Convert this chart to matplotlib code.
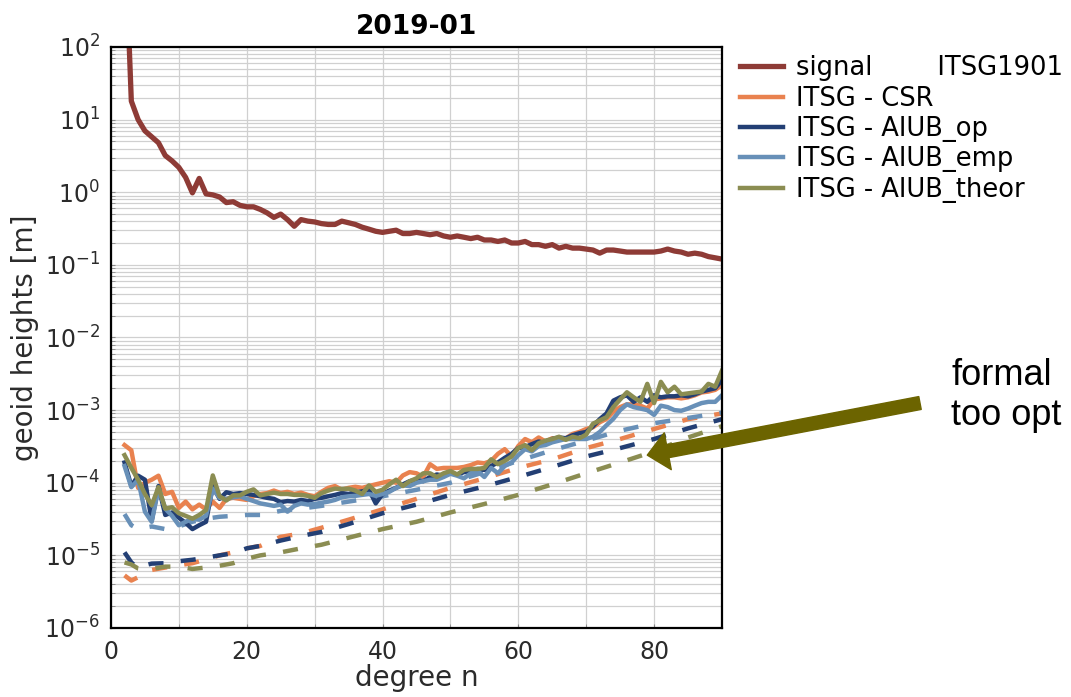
import matplotlib
matplotlib.use("Agg")
import matplotlib.pyplot as plt
from matplotlib.ticker import MultipleLocator, LogLocator, NullFormatter

# degrees 2..90
degrees = list(range(2, 91))

signal = [
    5000,                                                   # 2
    18, 10, 7.0, 5.8, 4.8, 3.2, 2.7, 2.2, 1.6,              # 3-11
    0.98, 1.55, 0.95, 0.92, 0.86, 0.72, 0.74, 0.66, 0.63, 0.63,   # 12-21
    0.58, 0.52, 0.45, 0.50, 0.42, 0.34, 0.42, 0.40, 0.39, 0.37,   # 22-31
    0.36, 0.36, 0.40, 0.38, 0.36, 0.33, 0.31, 0.29, 0.28, 0.29,   # 32-41
    0.30, 0.27, 0.27, 0.28, 0.27, 0.26, 0.27, 0.25, 0.24, 0.25,   # 42-51
    0.24, 0.23, 0.24, 0.22, 0.22, 0.21, 0.22, 0.20, 0.20, 0.21,   # 52-61
    0.19, 0.19, 0.18, 0.19, 0.17, 0.18, 0.17, 0.17, 0.165, 0.16,  # 62-71
    0.145, 0.16, 0.16, 0.155, 0.15, 0.15, 0.15, 0.15, 0.15, 0.155,  # 72-81
    0.165, 0.155, 0.15, 0.14, 0.145, 0.14, 0.13, 0.125, 0.12,       # 82-90
]

csr = [
    3.3e-4, 2.8e-4, 8.5e-5, 1.0e-4, 1.1e-4, 1.25e-4, 7.0e-5, 7.5e-5, 4.5e-5, 5.5e-5,   # 2-11
    4.3e-5, 5.0e-5, 4.3e-5, 5.5e-5, 4.5e-5, 6.0e-5, 6.2e-5, 6.0e-5, 5.8e-5, 6.5e-5,   # 12-21
    7.0e-5, 7.2e-5, 7.8e-5, 7.2e-5, 7.5e-5, 7.0e-5, 7.3e-5, 6.8e-5, 6.5e-5, 7.5e-5,   # 22-31
    8.5e-5, 9.0e-5, 8.0e-5, 8.5e-5, 8.8e-5, 8.5e-5, 9.0e-5, 9.5e-5, 1.0e-4, 1.05e-4,  # 32-41
    1.0e-4, 1.26e-4, 1.4e-4, 1.35e-4, 1.2e-4, 1.8e-4, 1.55e-4, 1.6e-4, 1.6e-4, 1.6e-4,  # 42-51
    1.65e-4, 1.75e-4, 1.9e-4, 1.85e-4, 2.0e-4, 2.5e-4, 2.9e-4, 2.3e-4, 3.2e-4, 4.0e-4,  # 52-61
    3.6e-4, 4.2e-4, 3.7e-4, 4.1e-4, 4.0e-4, 4.1e-4, 4.7e-4, 5.0e-4, 5.5e-4, 5.8e-4,    # 62-71
    6.8e-4, 7.6e-4, 9.5e-4, 1.1e-3, 1.2e-3, 1.2e-3, 1.15e-3, 1.05e-3, 1.4e-3, 1.45e-3,  # 72-81
    1.5e-3, 1.5e-3, 1.45e-3, 1.5e-3, 1.6e-3, 1.75e-3, 1.8e-3, 1.9e-3, 2.2e-3,           # 82-90
]

aiub_op = [
    1.9e-4, 9.0e-5, 1.25e-4, 1.1e-4, 3.0e-5, 9.0e-5, 3.6e-5, 3.9e-5, 3.3e-5, 2.8e-5,   # 2-11
    2.3e-5, 2.6e-5, 2.9e-5, 9.0e-5, 6.0e-5, 7.4e-5, 7.0e-5, 7.2e-5, 7.0e-5, 6.8e-5,   # 12-21
    6.5e-5, 6.2e-5, 6.0e-5, 5.4e-5, 5.6e-5, 5.5e-5, 5.8e-5, 5.6e-5, 6.0e-5, 6.2e-5,   # 22-31
    6.5e-5, 6.8e-5, 7.2e-5, 7.0e-5, 7.4e-5, 7.6e-5, 8.0e-5, 5.2e-5, 7.0e-5, 7.8e-5,   # 32-41
    8.5e-5, 9.5e-5, 1.05e-4, 1.1e-4, 1.05e-4, 1.2e-4, 1.3e-4, 1.25e-4, 1.35e-4, 1.3e-4,  # 42-51
    1.4e-4, 1.45e-4, 1.55e-4, 1.5e-4, 1.7e-4, 1.9e-4, 2.2e-4, 2.5e-4, 3.0e-4, 3.1e-4,   # 52-61
    3.4e-4, 3.7e-4, 3.5e-4, 4.0e-4, 4.2e-4, 4.1e-4, 4.5e-4, 4.8e-4, 5.0e-4, 6.0e-4,    # 62-71
    7.5e-4, 9.0e-4, 1.35e-3, 1.5e-3, 1.6e-3, 1.3e-3, 1.5e-3, 1.3e-3, 1.6e-3, 1.5e-3,   # 72-81
    1.55e-3, 1.55e-3, 1.6e-3, 1.55e-3, 1.65e-3, 1.8e-3, 1.9e-3, 2.0e-3, 2.6e-3,         # 82-90
]

aiub_emp = [
    1.7e-4, 8.7e-5, 1.1e-4, 4.0e-5, 2.9e-5, 8.3e-5, 4.4e-5, 3.5e-5, 2.6e-5, 2.9e-5,   # 2-11
    3.2e-5, 3.1e-5, 3.5e-5, 8.3e-5, 6.2e-5, 6.0e-5, 6.3e-5, 6.5e-5, 6.0e-5, 5.6e-5,   # 12-21
    5.2e-5, 5.0e-5, 4.8e-5, 5.0e-5, 4.0e-5, 4.8e-5, 5.2e-5, 5.0e-5, 5.1e-5, 5.3e-5,   # 22-31
    5.5e-5, 5.8e-5, 6.3e-5, 6.5e-5, 6.6e-5, 6.8e-5, 7.0e-5, 6.6e-5, 7.0e-5, 7.5e-5,   # 32-41
    8.5e-5, 9.2e-5, 9.0e-5, 1.0e-4, 1.05e-4, 1.1e-4, 1.1e-4, 1.2e-4, 1.33e-4, 1.25e-4,  # 42-51
    1.15e-4, 1.35e-4, 1.45e-4, 1.2e-4, 1.6e-4, 1.35e-4, 1.7e-4, 1.9e-4, 2.4e-4, 2.9e-4,  # 52-61
    2.7e-4, 3.2e-4, 3.3e-4, 3.6e-4, 3.8e-4, 4.0e-4, 4.0e-4, 4.0e-4, 4.0e-4, 4.3e-4,    # 62-71
    5.0e-4, 6.2e-4, 7.6e-4, 1.0e-3, 1.2e-3, 1.1e-3, 1.05e-3, 1.0e-3, 8.6e-4, 1.15e-3,  # 72-81
    1.1e-3, 1.0e-3, 9.8e-4, 1.05e-3, 1.15e-3, 1.25e-3, 1.3e-3, 1.3e-3, 1.6e-3,         # 82-90
]

aiub_theor = [
    2.4e-4, 1.6e-4, 1.1e-4, 7.0e-5, 4.9e-5, 8.7e-5, 4.4e-5, 4.6e-5, 3.8e-5, 3.5e-5,   # 2-11
    3.2e-5, 3.6e-5, 4.2e-5, 1.26e-4, 6.5e-5, 5.7e-5, 6.7e-5, 6.7e-5, 7.5e-5, 8.1e-5,  # 12-21
    6.7e-5, 7.0e-5, 7.3e-5, 7.0e-5, 7.0e-5, 6.8e-5, 6.8e-5, 6.6e-5, 6.2e-5, 7.2e-5,   # 22-31
    7.8e-5, 8.3e-5, 8.2e-5, 8.3e-5, 7.8e-5, 7.0e-5, 9.2e-5, 7.5e-5, 8.0e-5, 9.5e-5,   # 32-41
    1.1e-4, 9.0e-5, 1.05e-4, 1.15e-4, 1.35e-4, 1.35e-4, 1.2e-4, 1.35e-4, 1.45e-4, 1.3e-4,  # 42-51
    1.5e-4, 1.55e-4, 1.55e-4, 1.6e-4, 2.1e-4, 1.8e-4, 2.0e-4, 2.3e-4, 3.0e-4, 3.3e-4,   # 52-61
    2.8e-4, 3.5e-4, 3.8e-4, 4.0e-4, 4.3e-4, 3.9e-4, 4.3e-4, 4.1e-4, 4.6e-4, 6.5e-4,    # 62-71
    7.2e-4, 8.0e-4, 1.1e-3, 1.4e-3, 1.76e-3, 1.5e-3, 1.3e-3, 2.3e-3, 1.25e-3, 2.45e-3, # 72-81
    1.76e-3, 2.1e-3, 1.65e-3, 1.7e-3, 1.75e-3, 1.8e-3, 2.3e-3, 2.1e-3, 3.5e-3,         # 82-90
]

# formal errors (dashed), read at fewer degrees
deg_formal = [2, 3, 4, 5, 6, 8, 10, 12, 14, 16, 18, 20, 22, 25, 28, 31, 35,
              40, 45, 50, 55, 60, 65, 70, 75, 80, 85, 90]
csr_formal = [5.3e-6, 4.5e-6, 5.0e-6, 6.0e-6, 6.3e-6, 6.8e-6, 7.3e-6, 7.8e-6, 8.8e-6,
              1.0e-5, 1.1e-5, 1.25e-5, 1.35e-5, 1.8e-5, 2.0e-5, 2.4e-5, 3.1e-5,
              4.3e-5, 6.0e-5, 8.5e-5, 1.15e-4, 1.6e-4, 2.1e-4, 3.0e-4, 4.0e-4,
              5.5e-4, 7.5e-4, 9.0e-4]
op_formal = [1.1e-5, 8.0e-6, 6.6e-6, 7.3e-6, 7.7e-6, 7.8e-6, 8.3e-6, 8.7e-6, 9.3e-6,
             1.0e-5, 1.07e-5, 1.25e-5, 1.35e-5, 1.6e-5, 1.85e-5, 2.1e-5, 2.7e-5,
             3.8e-5, 5.0e-5, 6.8e-5, 8.9e-5, 1.2e-4, 1.65e-4, 2.3e-4, 3.0e-4,
             4.0e-4, 5.6e-4, 7.5e-4]
emp_formal = [3.7e-5, 2.6e-5, 2.3e-5, 2.4e-5, 2.5e-5, 2.3e-5, 2.5e-5, 2.9e-5, 3.2e-5,
              3.4e-5, 3.5e-5, 3.6e-5, 3.6e-5, 4.1e-5, 4.4e-5, 4.8e-5, 5.5e-5,
              6.5e-5, 8.0e-5, 1.0e-4, 1.4e-4, 2.0e-4, 2.8e-4, 3.8e-4, 5.2e-4,
              6.6e-4, 7.8e-4, 9.2e-4]
theor_formal = [8.0e-6, 7.5e-6, 6.6e-6, 6.4e-6, 6.5e-6, 7.0e-6, 7.0e-6, 6.5e-6, 6.8e-6,
                7.2e-6, 7.8e-6, 9.0e-6, 1.0e-5, 1.1e-5, 1.25e-5, 1.4e-5, 1.75e-5,
                2.3e-5, 2.9e-5, 3.9e-5, 5.1e-5, 6.8e-5, 9.5e-5, 1.35e-4, 1.9e-4,
                2.7e-4, 4.2e-4, 6.0e-4]

labels = ["signal        ITSG1901", "ITSG - CSR", "ITSG - AIUB_op",
          "ITSG - AIUB_emp", "ITSG - AIUB_theor"]
colors = ["#8e3b36", "#e9824f", "#233f74", "#6890b8", "#8b8d52"]
y_ticks = [1e-6, 1e-5, 1e-4, 1e-3, 1e-2, 1e-1, 1e0, 1e1, 1e2]

fig = plt.figure(figsize=(10.71, 6.97), dpi=100)
ax = fig.add_axes([0.1036, 0.0990, 0.5705, 0.8336])

lw = 3.2
dash = (0, (3.4, 3.9))
ax.plot(deg_formal, csr_formal, color=colors[1], lw=lw, ls=dash)
ax.plot(deg_formal, op_formal, color=colors[2], lw=lw, ls=dash)
ax.plot(deg_formal, emp_formal, color=colors[3], lw=lw, ls=dash)
ax.plot(deg_formal, theor_formal, color=colors[4], lw=lw, ls=dash)

ax.plot(degrees, signal, color=colors[0], lw=3.8, label=labels[0])
ax.plot(degrees, csr, color=colors[1], lw=lw, label=labels[1])
ax.plot(degrees, aiub_op, color=colors[2], lw=lw, label=labels[2])
ax.plot(degrees, aiub_emp, color=colors[3], lw=lw, label=labels[3])
ax.plot(degrees, aiub_theor, color=colors[4], lw=lw, label=labels[4])

ax.set_yscale("log")
ax.set_xlim(0, 90)
ax.set_ylim(1e-6, 1e2)
ax.xaxis.set_major_locator(MultipleLocator(20))
ax.xaxis.set_minor_locator(MultipleLocator(10))
ax.set_yticks(y_ticks)
ax.yaxis.set_minor_locator(LogLocator(base=10, subs=range(2, 10), numticks=20))
ax.yaxis.set_minor_formatter(NullFormatter())
ax.grid(True, which="both", color="#d0d0d0", lw=0.9)
ax.set_axisbelow(True)
ax.tick_params(which="both", direction="in", length=3, labelsize=17,
               labelcolor="#2b2b2b", color="#888888")
ax.tick_params(axis="x", pad=9)
ax.tick_params(axis="y", pad=8)
for s in ax.spines.values():
    s.set_color("black")
    s.set_linewidth(1.6)

ax.set_title("2019-01", fontsize=19, fontweight="bold", pad=9)
ax.set_xlabel("degree n", fontsize=20, color="#2b2b2b", labelpad=0)
ax.set_ylabel("geoid heights [m]", fontsize=20, color="#2b2b2b", labelpad=4)

ax.legend(loc="upper left", bbox_to_anchor=(1.025, 0.99), frameon=False,
          fontsize=18.5, handlelength=1.7, handletextpad=0.5, labelspacing=0.17,
          borderaxespad=0, borderpad=0.1)

# arrow pointing to the formal error curves
ax.annotate("", xy=(79, 2.4e-4), xycoords="data",
            xytext=(920 / 1071, 1 - 403 / 697), textcoords="figure fraction",
            arrowprops=dict(arrowstyle="simple,head_length=0.75,head_width=1.35,tail_width=0.47",
                            mutation_scale=20, color="#6c6400", shrinkA=0, shrinkB=0),
            annotation_clip=False, zorder=10)
fig.text(951 / 1071, 1 - 425 / 697, "formal\ntoo opt", fontsize=26,
         family="Liberation Sans", color="black", ha="left", va="baseline",
         linespacing=1.2)

fig.savefig("out.png", dpi=100)
